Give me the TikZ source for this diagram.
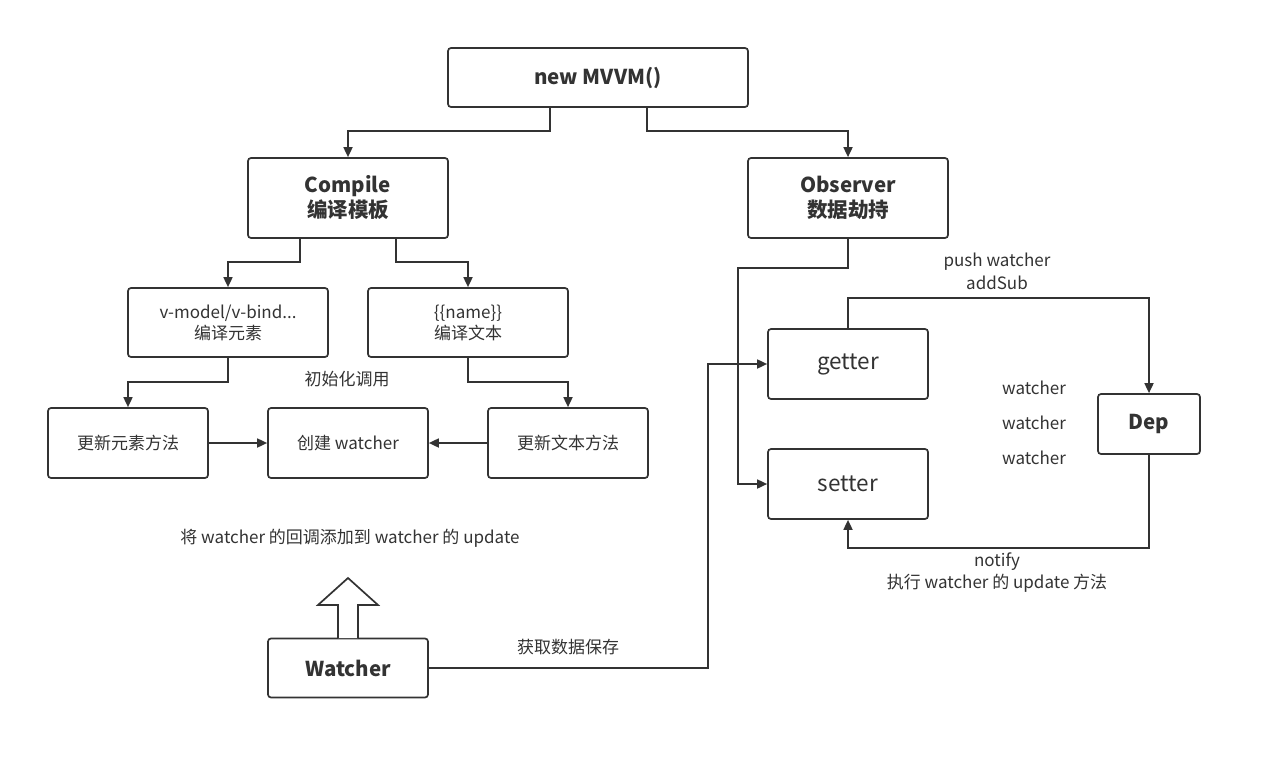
\documentclass[tikz,border=0pt]{standalone}
\usepackage{fontspec}
\setmainfont{Noto Sans CJK SC}
\usetikzlibrary{arrows.meta}
\definecolor{ink}{HTML}{333333}
\begin{document}
\begin{tikzpicture}[x=1pt,y=-1pt,
  box/.style={draw=ink,line width=1.7pt,rounded corners=3pt,text=ink,align=center,inner sep=0pt,anchor=center},
  conn/.style={draw=ink,line width=1.7pt,-{Triangle[length=10pt,width=9pt]}},
  lbl/.style={text=ink,align=center,font=\fontsize{17}{21}\selectfont,inner sep=0pt},
  small/.style={font=\fontsize{17}{21}\selectfont},
  big/.style={font=\fontsize{22.5}{26}\selectfont},
  title/.style={font=\bfseries\fontsize{20.5}{25}\selectfont}]
\useasboundingbox (0,0) rectangle (1263,760);
\fill[white] (0,0) rectangle (1263,760);
% nodes
\node[box,title,minimum width=300pt,minimum height=59pt] (mvvm) at (598,77.5) {new MVVM()};
\node[box,title,minimum width=200pt,minimum height=80pt] (compile) at (348,198) {Compile\\编译模板};
\node[box,title,minimum width=200pt,minimum height=80pt] (observer) at (848,198) {Observer\\数据劫持};
\node[box,small,minimum width=200pt,minimum height=69pt] (vmodel) at (228,322.5) {v-model/v-bind...\\编译元素};
\node[box,small,minimum width=200pt,minimum height=69pt] (name) at (468,322.5) {\{\{name\}\}\\编译文本};
\node[box,small,minimum width=160pt,minimum height=70pt] (upel) at (128,443) {更新元素方法};
\node[box,small,minimum width=160pt,minimum height=70pt] (create) at (348,443) {创建 watcher};
\node[box,small,minimum width=160pt,minimum height=70pt] (uptx) at (568,443) {更新文本方法};
\node[box,big,minimum width=160pt,minimum height=70pt] (getter) at (848,364) {getter};
\node[box,big,minimum width=160pt,minimum height=70pt] (setter) at (848,484) {setter};
\node[box,title,minimum width=102pt,minimum height=60pt] (dep) at (1149,424) {Dep};
\node[box,title,minimum width=160pt,minimum height=59pt] (watcher) at (348,668) {Watcher};
% connectors
\draw[conn] (mvvm.south -| 550,0) |- (348,131) -- (compile.north);
\draw[conn] (mvvm.south -| 647,0) |- (848,131) -- (observer.north);
\draw[conn] (compile.south -| 300,0) |- (228,262) -- (vmodel.north);
\draw[conn] (compile.south -| 396,0) |- (468,262) -- (name.north);
\draw[conn] (vmodel.south) |- (128,382) -- (upel.north);
\draw[conn] (name.south) |- (568,382) -- (uptx.north);
\draw[conn] (upel.east) -- (create.west);
\draw[conn] (uptx.west) -- (create.east);
\draw[conn] (observer.south) |- (738,268) |- (setter.west);
\draw[conn] (watcher.east) -| (708,363) |- (getter.west);
\draw[conn] (getter.north) |- (1149,298) -- (dep.north);
\draw[conn] (dep.south) |- (848,548) -- (setter.south);
% hollow arrow
\draw[ink,line width=1.7pt,fill=white] (338,638) -- (338,605) -- (318,605) -- (348,578) -- (378,605) -- (358,605) -- (358,638);
% labels
\node[lbl] (l1) at (997,262) {push watcher};
\node[lbl] (l2) at (997,283) {addSub};
\node[lbl] (w1) at (1034,388) {watcher};
\node[lbl] (w2) at (1034,423) {watcher};
\node[lbl] (w3) at (1034,458) {watcher};
\node[lbl] (n1) at (997,562) {notify};
\node[lbl] (n2) at (997,583) {执行 watcher 的 update 方法};
\node[lbl] (init) at (347,379) {初始化调用};
\node[lbl] (cb) at (350,538) {将 watcher 的回调添加到 watcher 的 update};
\node[lbl] (get) at (568,647) {获取数据保存};
\end{tikzpicture}
\end{document}
